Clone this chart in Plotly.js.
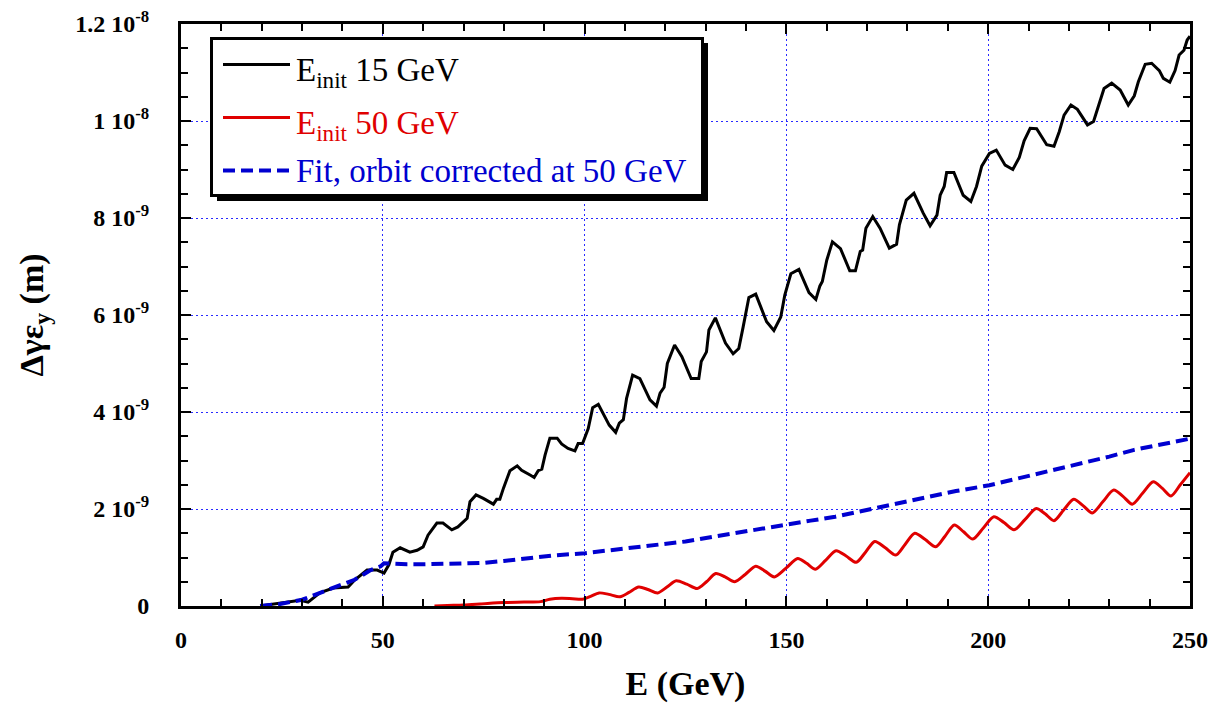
<!DOCTYPE html>
<html>
<head>
<meta charset="utf-8">
<script src="https://cdn.plot.ly/plotly-3.0.1.min.js"></script>
<style>
html,body{margin:0;padding:0;background:#fff;}
#chart{width:1211px;height:708px;}
</style>
</head>
<body>
<div id="chart"></div>
<script>
// Values of the y series are in units of 1e-9 m
const blackE = [19.6,22,24.5,27,29.5,31.5,34.4,37.7,41.4,43.1,46.1,48.6,50.3,51.5,52.5,54.3,56.7,58.5,60,61.2,63.4,64.9,67.1,68.6,70.9,71.6,73.1,74.9,77,77.4,78.2,79,79.9,81.5,83.3,84.4,86.5,87.5,88.5,89.4,90.2,91.4,93.2,94.3,95.9,97.6,98.4,99.5,100.9,102,103.4,104.6,106.1,107.7,108.6,109.6,110.4,111.9,113.7,116.2,117.8,118.7,119.7,120.5,122.3,124.1,126.4,128.3,128.9,130.2,130.8,132.4,134.9,136.8,138.2,139.3,140.7,142.4,145.1,146.9,148.6,149.6,151.1,153.1,155.6,157.3,158.3,158.9,160,161.4,163.4,165.7,167.1,168.3,168.9,169.7,171.4,173.2,175.5,177.3,178,179.7,181.6,183.9,185.6,187.3,188.1,189.1,189.7,191.5,193.8,195.7,197.1,198.4,200.3,202,204.2,206.1,207.7,208.9,210.4,212,214.5,216.3,217.6,218.8,220.5,222.1,224.6,226.1,227.3,228.7,230.6,232.7,234.7,236.2,237.2,238.9,240.5,242.4,243.4,245,246.3,247.3,248.5,249.3,250];
const blackY = [0,0.03,0.06,0.09,0.12,0.08,0.27,0.37,0.39,0.54,0.74,0.74,0.68,0.85,1.11,1.20,1.11,1.15,1.22,1.46,1.71,1.71,1.57,1.63,1.81,2.15,2.29,2.22,2.13,2.10,2.20,2.20,2.43,2.79,2.89,2.80,2.70,2.65,2.79,2.82,3.11,3.46,3.46,3.34,3.25,3.20,3.35,3.35,3.66,4.09,4.16,3.97,3.73,3.58,3.77,3.84,4.28,4.76,4.69,4.25,4.12,4.39,4.51,5.00,5.38,5.14,4.69,4.69,5.04,5.24,5.69,5.94,5.42,5.20,5.31,5.76,6.36,6.43,5.86,5.68,5.96,6.41,6.85,6.94,6.46,6.32,6.60,6.69,7.13,7.51,7.37,6.91,6.91,7.31,7.34,7.79,8.03,7.79,7.38,7.46,7.86,8.37,8.51,8.10,7.84,8.06,8.47,8.65,8.94,8.94,8.47,8.34,8.65,9.07,9.33,9.40,9.09,9.00,9.25,9.59,9.85,9.84,9.51,9.48,9.78,10.12,10.33,10.24,9.92,9.99,10.31,10.67,10.78,10.64,10.33,10.52,10.81,11.17,11.19,11.04,10.88,10.80,11.04,11.36,11.46,11.67,11.75];

const redE = [62.8,66,70,74.1,79.9,85,89.1,91.4,94.3,97,99.5,101.5,103.6,106,108.8,111,113.4,115.7,118.1,120.4,122.7,125.3,127.9,130.2,132.5,134.8,137.2,139.8,142.4,144.7,147,149.9,152.8,155,157.2,159.7,162.3,164.8,167.3,169.6,171.9,174.5,177.1,179.4,181.8,184.4,187,189.3,191.6,193.9,196.2,198.8,201.4,203.9,206.4,209.1,211.9,214.1,216.3,218.7,221.2,223.5,225.8,228.4,231.1,233.4,235.7,238.3,240.9,243.1,245.3,247.6,250];
const redY = [0,0.01,0.02,0.04,0.07,0.08,0.09,0.14,0.16,0.15,0.14,0.20,0.27,0.24,0.19,0.28,0.39,0.34,0.27,0.39,0.52,0.45,0.36,0.50,0.67,0.60,0.50,0.65,0.82,0.72,0.60,0.78,0.98,0.88,0.76,0.94,1.14,1.03,0.90,1.11,1.33,1.20,1.05,1.27,1.50,1.37,1.22,1.44,1.67,1.53,1.38,1.61,1.84,1.72,1.57,1.78,2.01,1.90,1.76,1.98,2.20,2.07,1.92,2.15,2.39,2.26,2.10,2.33,2.56,2.43,2.27,2.50,2.75];

const fitE = [19.6,24.5,30,35,39,43,47,49.5,50.3,52,56,60,65,70,75.2,80,85.6,92,100.1,106,112.3,118,125,132,138.9,144,150.5,156,162.1,167,172.5,178,185.2,192,200.3,206,213,218,224.6,230,236.2,241,246.6,250];
const fitY = [0,0.04,0.13,0.29,0.43,0.54,0.74,0.82,0.88,0.87,0.86,0.86,0.87,0.88,0.89,0.93,0.98,1.04,1.09,1.15,1.22,1.27,1.33,1.43,1.53,1.60,1.69,1.76,1.84,1.93,2.03,2.12,2.25,2.37,2.49,2.60,2.74,2.84,2.98,3.08,3.22,3.30,3.39,3.45];

const xTickVals = [0,50,100,150,200,250];
const xTickText = ['0','50','100','150','200','250'];
const yTickVals = [0,2,4,6,8,10,12];
const yTickText = ['0','2 10<sup>-9</sup>','4 10<sup>-9</sup>','6 10<sup>-9</sup>','8 10<sup>-9</sup>','1 10<sup>-8</sup>','1.2 10<sup>-8</sup>'];

const legendNames = ['E<sub>init</sub> 15 GeV','E<sub>init</sub> 50 GeV','Fit, orbit corrected at 50 GeV'];
const colors = ['#000000','#e00000','#0000d0'];

const FONT = '"Liberation Serif", "Times New Roman", Times, serif';

const traces = [
  {x: blackE, y: blackY, type:'scatter', mode:'lines', name: legendNames[0],
   line:{color:colors[0], width:3}},
  {x: redE, y: redY, type:'scatter', mode:'lines', name: legendNames[1],
   line:{color:colors[1], width:3, shape:'spline', smoothing:0.8}},
  {x: fitE, y: fitY, type:'scatter', mode:'lines', name: legendNames[2],
   line:{color:colors[2], width:4, dash:'12px,6px'}}
];

// plot-area pixel helpers for the hand-drawn legend box
const L=181, R=1190, T=24, B=606;
const px = v => (v-L)/(R-L);
const py = v => (B-v)/(B-T);

const shapes = [
  {type:'rect', xref:'paper', yref:'paper', x0:px(217), x1:px(708), y0:py(201), y1:py(43),
   fillcolor:'#000', line:{width:0}, layer:'above'},
  {type:'rect', xref:'paper', yref:'paper', x0:px(211.5), x1:px(702.5), y0:py(195.5), y1:py(38.5),
   fillcolor:'#fff', line:{color:'#000', width:3}, layer:'above'}
];
const rows = [64.5, 117.5, 170.5];
const sampleDash = ['solid','solid','12px,6px'];
const sampleW = [3,3,4];
const annotations = [];
for (let i=0;i<3;i++){
  shapes.push({type:'line', xref:'paper', yref:'paper', x0:px(223), x1:px(290), y0:py(rows[i]), y1:py(rows[i]),
    line:{color:colors[i], width:sampleW[i], dash:sampleDash[i]}, layer:'above'});
  annotations.push({xref:'paper', yref:'paper', x:px(294), y:py(rows[i]+ (i<2?8:0)), xanchor:'left', yanchor:'middle',
    text:legendNames[i], showarrow:false, font:{family:FONT, size:33, color:colors[i]}});
}

const axisCommon = {
  showline:true, linecolor:'#000', linewidth:3, mirror:'ticks',
  ticks:'inside', tickcolor:'#000', tickwidth:2, ticklen:10,
  showgrid:true, gridcolor:'#2a2aff', gridwidth:1, griddash:'2px,3px',
  zeroline:false,
  tickfont:{family:FONT, size:24, color:'#000', weight:'bold'},
  tickmode:'array'
};

const layout = {
  width:1211, height:708,
  margin:{l:L, r:1211-R, t:T, b:708-B},
  paper_bgcolor:'#fff', plot_bgcolor:'#fff',
  showlegend:false,
  font:{family:FONT, size:24},
  xaxis: Object.assign({}, axisCommon, {
    range:[0,250], tickvals:xTickVals, ticktext:xTickText,
    ticklabelstandoff:10,
    minor:{dtick:10, ticks:'inside', ticklen:7, tickwidth:2, tickcolor:'#000', showgrid:false},
    title:{text:'E (GeV)', font:{family:FONT, size:34, weight:'bold', color:'#000'}, standoff:20}
  }),
  yaxis: Object.assign({}, axisCommon, {
    range:[0,12], tickvals:yTickVals, ticktext:yTickText,
    ticklabelstandoff:24,
    minor:{dtick:0.5, ticks:'inside', ticklen:7, tickwidth:2, tickcolor:'#000', showgrid:false},
    title:{text:'Δγε<sub>y</sub> (m)', font:{family:FONT, size:34, weight:'bold', color:'#000'}, standoff:22}
  }),
  shapes: shapes,
  annotations: annotations
};

Plotly.newPlot('chart', traces, layout, {displayModeBar:false}).then(function(gd){
  // expose the rendered font size as an attribute on every text node as well
  gd.querySelectorAll('text, tspan').forEach(function(t){
    var fs = window.getComputedStyle(t).fontSize;
    if (fs) t.setAttribute('font-size', fs);
  });
});
</script>
</body>
</html>
